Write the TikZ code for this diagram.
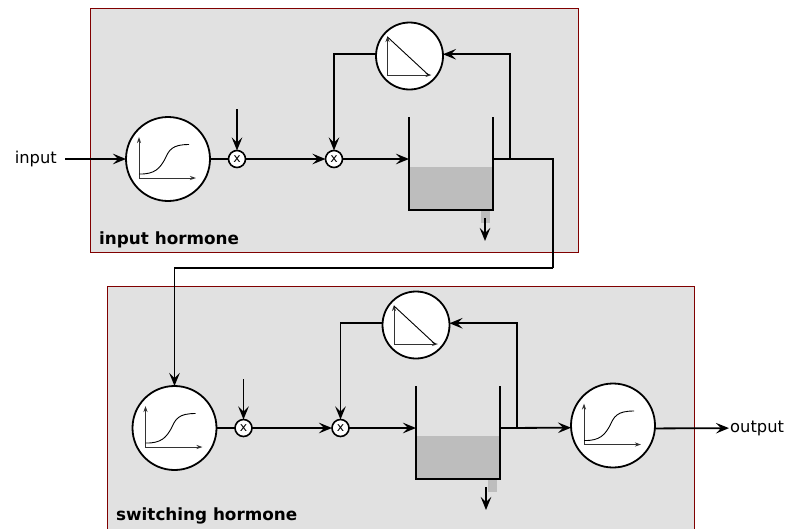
\documentclass[tikz,border=0pt]{standalone}
\usepackage{fontspec}
\setmainfont{DejaVu Sans}
\usetikzlibrary{calc,arrows.meta}
\definecolor{panelfill}{HTML}{E1E1E1}
\definecolor{panelline}{HTML}{800000}
\definecolor{levelfill}{HTML}{BDBDBD}
\tikzset{
  x=1pt, y=-1pt,
  >={Stealth[length=13pt,width=10.5pt,inset=5pt]},
  flow/.style     = {line width=1.8pt},
  panel/.style    = {draw=panelline,fill=panelfill,line width=1pt},
  gland/.style    = {circle,draw,fill=white,line width=1.8pt,minimum size=84pt,inner sep=0pt,outer sep=0pt},
  decay/.style    = {circle,draw,fill=white,line width=1.8pt,minimum size=67pt,inner sep=0pt,outer sep=0pt},
  mult/.style     = {circle,draw,fill=white,line width=1.6pt,minimum size=17pt,inner sep=0pt,outer sep=0pt,font=\fontsize{12.5}{12.5}\selectfont},
  tank/.style     = {minimum width=84pt,minimum height=93pt,inner sep=0pt,outer sep=0pt},
  axes/.style     = {line width=1pt,black!80,{Stealth[length=6pt,width=4pt]}-{Stealth[length=6pt,width=4pt]}},
  iolabel/.style  = {font=\fontsize{16.3}{16.3}\selectfont},
  title/.style    = {font=\fontsize{16.8}{16.8}\selectfont\bfseries,anchor=base west,inner sep=0pt}
}
\newcommand{\DrawGland}[2]{%
  % draws the circle with the saturating response curve
  \node[gland] (#1) at #2 {};
  \draw[axes] ($(#1.center)+(-29,-22)$) |- ($(#1.center)+(28,19)$);
  \draw[line width=0.9pt] ($(#1.center)+(-29,15)$)
    .. controls ($(#1.center)+(-13,15.5)$) and ($(#1.center)+(-8,9)$) .. ($(#1.center)+(-3,0)$)
    .. controls ($(#1.center)+(1,-9)$) and ($(#1.center)+(4,-14.5)$) .. ($(#1.center)+(21,-14.5)$);
}
\newcommand{\DrawDecay}[2]{%
  % draws the circle with the falling line
  \node[decay] (#1) at #2 {};
  \draw[axes] ($(#1.center)+(-22,-20)$) |- ($(#1.center)+(22,19)$);
  \draw[line width=0.9pt] ($(#1.center)+(-22,-19)$)--($(#1.center)+(19,19)$);
}
\newcommand{\DrawTank}[2]{%
  \node[tank] (#1) at #2 {};
  % fluid level
  \fill[levelfill] ($(#1.north west)+(0,50)$) rectangle (#1.south east);
  % drain
  \fill[levelfill] ($(#1.south west)+(71.5,0)$) rectangle ($(#1.south west)+(80.5,13)$);
  % walls
  \draw[flow] (#1.north west) -- (#1.south west) -- (#1.south east) -- (#1.north east);
  \coordinate (#1in)  at ($(#1.north west)+(0,42)$);
  \coordinate (#1out) at ($(#1.north east)+(0,42)$);
}

\begin{document}
\begin{tikzpicture}
    \clip (0,0) rectangle (785,528);

    % panels
    \node[panel,minimum width=487.5pt,minimum height=244pt,inner sep=0pt,anchor=north west] (panela) at (90,8) {};
    \node[panel,minimum width=587pt,minimum height=260pt,inner sep=0pt,anchor=north west] (panelb) at (107,285.5) {};
    \node[title] (titlea) at (99,244) {input hormone};
    \node[title] (titleb) at (116,520) {switching hormone};

    % input hormone
    \node[iolabel,inner xsep=8pt,inner ysep=0pt,anchor=east] (input) at (65,159) {input};
    \DrawGland{glanda}{(168,159)}
    \node[mult] (gaina) at (237,159) {x};
    \node[mult] (clearanceA) at (334,159) {x};
    \DrawTank{tanka}{(451,163.5)}
    \DrawDecay{decaya}{(409.5,56)}
    \coordinate (ratea) at (237,109);
    \coordinate (brancha) at (510,159);
    \coordinate (turna) at (553,159);
    \coordinate (turnb) at (553,268);
    \coordinate (draina) at (485,218);
    \coordinate (sinka) at (485,241);

    \draw[flow,->] (input) -- (glanda);
    \draw[flow] (glanda) -- (gaina);
    \draw[flow,->] (ratea) -- (gaina);
    \draw[flow,->] (gaina) -- (clearanceA);
    \draw[flow,->] (clearanceA) -- (tankain);
    \draw[flow,->] (brancha) |- (decaya.3);
    \draw[flow,->] (decaya.177) -| (clearanceA);
    \draw[flow,->] (draina) -- (sinka);

    % switching hormone
    \DrawGland{glandb}{(174.5,428)}
    \node[mult] (gainb) at (243.5,428) {x};
    \node[mult] (clearanceB) at (340.5,428) {x};
    \DrawTank{tankb}{(458,432.5)}
    \DrawDecay{decayb}{(416,325)}
    \DrawGland{glandc}{(613,425.5)}
    \node[iolabel,inner sep=1pt,anchor=west] (output) at (729,428) {output};
    \coordinate (rateb) at (243.5,379);
    \coordinate (branchb) at (517,428);
    \coordinate (drainb) at (486,487);
    \coordinate (sinkb) at (486,510);

    \draw[flow] (tankaout) -- (turna) -- (turnb);
    \draw[flow,->] (turnb) -| (glandb);
    \draw[flow] (glandb) -- (gainb);
    \draw[flow,->] (rateb) -- (gainb);
    \draw[flow,->] (gainb) -- (clearanceB);
    \draw[flow,->] (clearanceB) -- (tankbin);
    \draw[flow,->] (branchb) |- (decayb.3);
    \draw[flow,->] (decayb.177) -| (clearanceB);
    \draw[flow,->] (tankbout) -- (glandc.183.5);
    \draw[flow,->] (glandc.356.5) -- (output);
    \draw[flow,->] (drainb) -- (sinkb);
\end{tikzpicture}
\end{document}
